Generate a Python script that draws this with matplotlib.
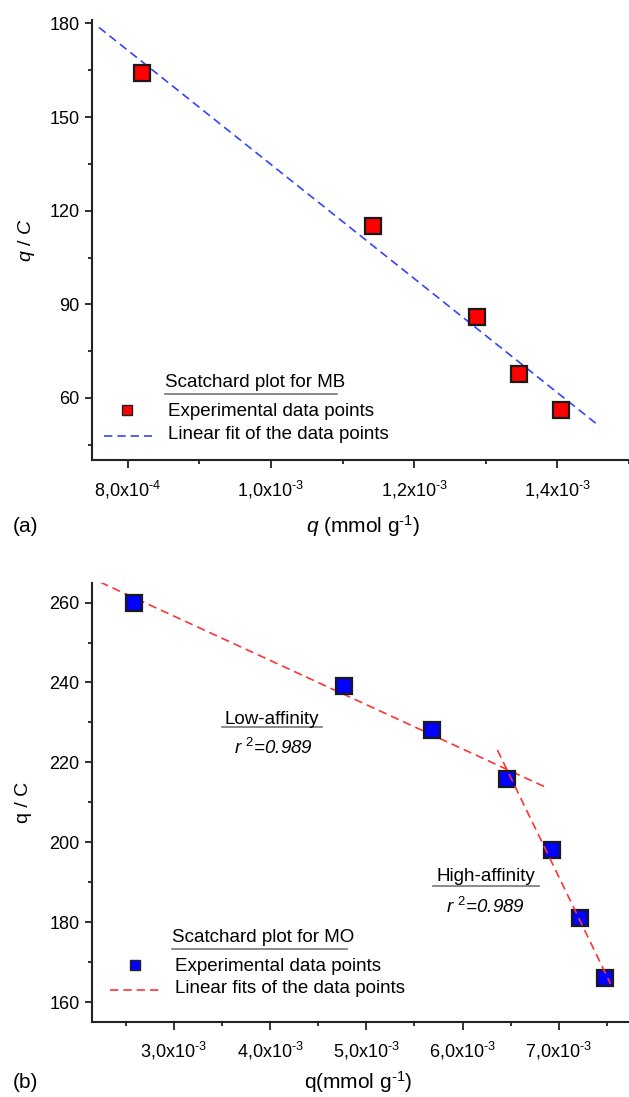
import numpy as np
import matplotlib
matplotlib.use("Agg")
import matplotlib.pyplot as plt
from matplotlib.ticker import FixedLocator

plt.rcParams["font.family"] = ["Liberation Sans", "DejaVu Sans"]
plt.rcParams["mathtext.fontset"] = "custom"
plt.rcParams["mathtext.rm"] = "Liberation Sans"
plt.rcParams["mathtext.it"] = "Liberation Sans:italic"

# ---- (a) methylene blue ----
mb_q = [8.2e-4, 1.1425e-3, 1.287e-3, 1.347e-3, 1.4045e-3]
mb_qc = [164.1, 115.1, 86.1, 67.6, 56.3]
mb_fit_q = [7.6e-4, 1.459e-3]
mb_fit_qc = [178.7, 50.9]
mb_xticks = [8e-4, 1.0e-3, 1.2e-3, 1.4e-3]
mb_xticklabels = [r"8,0x10$^{\text{-4}}$", r"1,0x10$^{\text{-3}}$",
                  r"1,2x10$^{\text{-3}}$", r"1,4x10$^{\text{-3}}$"]
mb_yticks = [60, 90, 120, 150, 180]

# ---- (b) methyl orange ----
mo_q = [2.583e-3, 4.767e-3, 5.688e-3, 6.458e-3, 6.925e-3, 7.221e-3, 7.479e-3]
mo_qc = [260.0, 239.1, 228.0, 215.9, 198.1, 181.1, 166.0]
mo_low_fit_q = [2.2375e-3, 6.8625e-3]
mo_low_fit_qc = [265.1, 213.8]
mo_high_fit_q = [6.3625e-3, 7.5375e-3]
mo_high_fit_qc = [223.1, 164.6]
mo_xticks = [3e-3, 4e-3, 5e-3, 6e-3, 7e-3]
mo_xticklabels = [r"3,0x10$^{\text{-3}}$", r"4,0x10$^{\text{-3}}$", r"5,0x10$^{\text{-3}}$",
                  r"6,0x10$^{\text{-3}}$", r"7,0x10$^{\text{-3}}$"]
mo_yticks = [160, 180, 200, 220, 240, 260]

TICK_FS = 13
LEG_FS = 13.5
LABEL_FS = 15
YLABEL_FS = 14


def style_axes(ax):
    for side in ("top", "right"):
        ax.spines[side].set_visible(False)
    for side in ("left", "bottom"):
        ax.spines[side].set_linewidth(1.5)
        ax.spines[side].set_color("#222222")
    ax.tick_params(which="major", direction="out", length=5, width=1.3,
                   labelsize=TICK_FS, color="#222222")
    ax.tick_params(which="minor", direction="out", length=3, width=1.3,
                   color="#222222")
    ax.tick_params(axis="x", which="major", length=6, pad=7)
    ax.tick_params(axis="y", which="major", pad=4)


def draw_legend(ax, title, fill, line_color, label1, label2, pos):
    x_title, y_title, ul_end, y_mark, y_line, x_mark, x_line0, x_line1 = pos
    ax.text(x_title, y_title, title, transform=ax.transAxes, fontsize=LEG_FS,
            va="center", ha="left")
    ax.plot([x_title, ul_end], [y_title - 0.026, y_title - 0.026],
            transform=ax.transAxes, color="#777777", lw=1.2, clip_on=False)
    ax.plot([x_mark], [y_mark], "s", transform=ax.transAxes, ms=7,
            mfc=fill, mec="#222222", mew=1.0, clip_on=False)
    ax.text(x_title + 0.005, y_mark - 0.004, label1, transform=ax.transAxes,
            fontsize=LEG_FS, va="center", ha="left")
    ax.plot([x_line0, x_line1], [y_line, y_line], transform=ax.transAxes,
            color=line_color, lw=1.2, ls=(0, (5, 3)), clip_on=False)
    ax.text(x_title + 0.005, y_line + 0.003, label2, transform=ax.transAxes,
            fontsize=LEG_FS, va="center", ha="left")


fig = plt.figure(figsize=(6.29, 10.97), dpi=100)

# ---------- panel (a) ----------
ax1 = fig.add_axes([0.1461, 0.5803, 0.854, 0.4012])
ax1.plot(mb_fit_q, mb_fit_qc, color="#3344ff", lw=1.2, ls=(0, (5, 3)), zorder=2)
ax1.plot(mb_q, mb_qc, "s", ms=11.5, mfc="#ff0000", mec="#1a1a1a", mew=1.6, zorder=3)
ax1.set_xlim(7.5e-4, 1.5e-3)
ax1.set_ylim(40, 181)
ax1.set_xticks(mb_xticks)
ax1.set_xticklabels(mb_xticklabels)
ax1.xaxis.set_minor_locator(FixedLocator([9e-4, 1.1e-3, 1.3e-3, 1.5e-3]))
ax1.set_yticks(mb_yticks)
ax1.yaxis.set_minor_locator(FixedLocator([45, 75, 105, 135, 165]))
style_axes(ax1)
ax1.set_ylabel(r"$q$ / $C$", fontsize=YLABEL_FS, labelpad=9)
fig.text(363 / 629, 1 - 526 / 1097, r"$q$ (mmol g$^{\text{-1}}$)",
         fontsize=LABEL_FS, ha="center", va="center")
draw_legend(ax1, "Scatchard plot for MB", "#ff0000", "#3344ff",
            "Experimental data points", "Linear fit of the data points",
            (0.137, 0.176, 0.456, 0.115, 0.056, 0.066, 0.022, 0.112))
fig.text(0.02, 1 - 527 / 1097, "(a)", fontsize=LABEL_FS, va="center", ha="left")

# ---------- panel (b) ----------
ax2 = fig.add_axes([0.1461, 0.0683, 0.854, 0.4006])
ax2.plot(mo_low_fit_q, mo_low_fit_qc, color="#ff3333", lw=1.2, ls=(0, (5, 3)), zorder=2)
ax2.plot(mo_high_fit_q, mo_high_fit_qc, color="#ff3333", lw=1.2, ls=(0, (5, 3)), zorder=4)
ax2.plot(mo_q, mo_qc, "s", ms=11.5, mfc="#0000ff", mec="#1a1a1a", mew=1.6, zorder=3)
ax2.set_xlim(2.15e-3, 7.73e-3)
ax2.set_ylim(155, 265)
ax2.set_xticks(mo_xticks)
ax2.set_xticklabels(mo_xticklabels)
ax2.xaxis.set_minor_locator(FixedLocator([2.5e-3, 3.5e-3, 4.5e-3, 5.5e-3, 6.5e-3, 7.5e-3]))
ax2.set_yticks(mo_yticks)
ax2.yaxis.set_minor_locator(FixedLocator([170, 190, 210, 230, 250]))
style_axes(ax2)
ax2.set_ylabel("q / C", fontsize=YLABEL_FS, labelpad=12)
fig.text(358 / 629, 1 - 1082 / 1097, r"q(mmol g$^{\text{-1}}$)",
         fontsize=LABEL_FS, ha="center", va="center")
draw_legend(ax2, "Scatchard plot for MO", "#0000ff", "#ff3333",
            "Experimental data points", "Linear fits of the data points",
            (0.150, 0.193, 0.475, 0.131, 0.073, 0.081, 0.034, 0.128))

# affinity annotations
ax2.text(4.02e-3, 230.8, "Low-affinity", fontsize=LEG_FS, ha="center", va="center")
ax2.plot([3.5e-3, 4.54e-3], [228.9, 228.9], color="#777777", lw=1.2)
ax2.text(4.04e-3, 223.7, r"$r$ $^{2}$=0.989", fontsize=LEG_FS, ha="center",
         va="center", style="italic")
ax2.text(6.246e-3, 191.5, "High-affinity", fontsize=LEG_FS, ha="center", va="center")
ax2.plot([5.696e-3, 6.792e-3], [189.1, 189.1], color="#777777", lw=1.2)
ax2.text(6.238e-3, 183.9, r"$r$ $^{2}$=0.989", fontsize=LEG_FS, ha="center",
         va="center", style="italic")
fig.text(0.02, 1 - 1083 / 1097, "(b)", fontsize=LABEL_FS, va="center", ha="left")

fig.savefig("out.png", dpi=100)
